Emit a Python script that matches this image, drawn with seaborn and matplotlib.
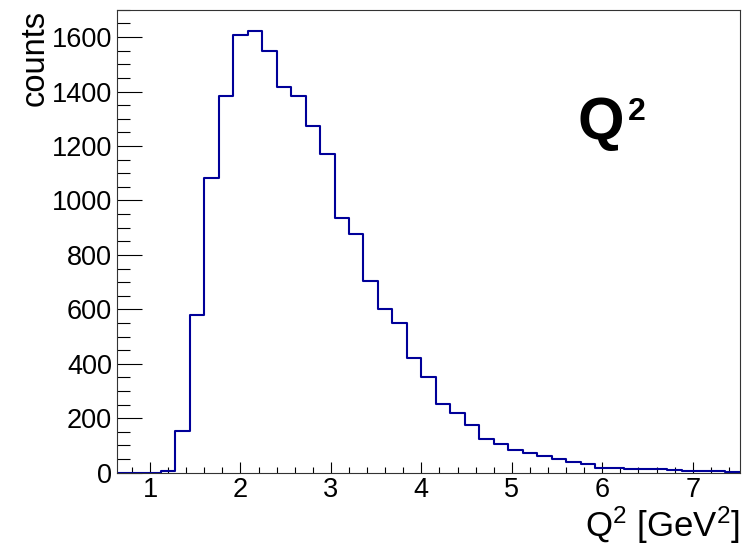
import numpy as np
import pandas as pd
import matplotlib
matplotlib.use("Agg")
import matplotlib.pyplot as plt
import seaborn as sns
from matplotlib.ticker import MultipleLocator

# Q^2 histogram, 0.16 GeV^2 bins, shown range 0.64 - 7.52
bin_edges = np.round(np.arange(0.64, 7.52 + 1e-9, 0.16), 2)
counts = [0, 0, 0, 6, 152, 581, 1082, 1385, 1606, 1621,
          1550, 1417, 1385, 1272, 1172, 936, 877, 703, 603, 549,
          422, 351, 253, 219, 177, 125, 104, 85, 71, 61,
          51, 40, 32, 18, 18, 15, 14, 12, 10, 6,
          6, 6, 3]
bin_centers = (bin_edges[:-1] + bin_edges[1:]) / 2

df = pd.DataFrame({'q2': bin_centers, 'n': counts})

sns.set_style("ticks")
plt.rcParams['font.family'] = ['Liberation Sans', 'DejaVu Sans']
plt.rcParams['mathtext.fontset'] = 'custom'
plt.rcParams['mathtext.rm'] = 'Liberation Sans'
plt.rcParams['mathtext.it'] = 'Liberation Sans'
plt.rcParams['text.color'] = 'black'
plt.rcParams['axes.labelcolor'] = 'black'
plt.rcParams['xtick.color'] = 'black'
plt.rcParams['ytick.color'] = 'black'

fig = plt.figure(figsize=(7.48, 5.49), dpi=100)
ax = fig.add_axes([0.157, 0.139, 0.832, 0.843])

sns.histplot(data=df, x='q2', weights='n', bins=bin_edges.tolist(), element="step",
             fill=False, color="#000099", linewidth=1.5, ax=ax)

ax.set_xlim(0.64, 7.52)
ax.set_ylim(0, 1700)

ax.xaxis.set_major_locator(MultipleLocator(1))
ax.xaxis.set_minor_locator(MultipleLocator(0.2))
ax.yaxis.set_major_locator(MultipleLocator(200))
ax.yaxis.set_minor_locator(MultipleLocator(50))

ax.tick_params(axis='x', which='major', direction='in', length=8, width=0.8, pad=3, labelsize=19.5)
ax.tick_params(axis='x', which='minor', direction='in', length=4, width=0.8)
ax.tick_params(axis='y', which='major', direction='in', length=18, width=0.8, pad=4, labelsize=19.5)
ax.tick_params(axis='y', which='minor', direction='in', length=9, width=0.8)

for sp in ax.spines.values():
    sp.set_linewidth(0.8)
    sp.set_color('#333333')

ax.set_xlabel(r'$\mathregular{Q^{2}}$ [GeV$\mathregular{^{2}}$]', fontsize=25, loc='right')
ax.set_ylabel('counts', fontsize=23.5, loc='top')
ax.xaxis.label.set_va('baseline')
ax.yaxis.label.set_va('baseline')
ax.xaxis.set_label_coords(1.0, -0.139)
ax.yaxis.set_label_coords(-0.118, 1.0)

# big bold "Q2" tag, superscript drawn as its own text
fig.text(0.7725, 0.746, 'Q', fontsize=43, fontweight='bold', ha='left', va='baseline')
fig.text(0.839, 0.782, '2', fontsize=23, fontweight='bold', ha='left', va='baseline')

fig.savefig("out.png", dpi=100)
